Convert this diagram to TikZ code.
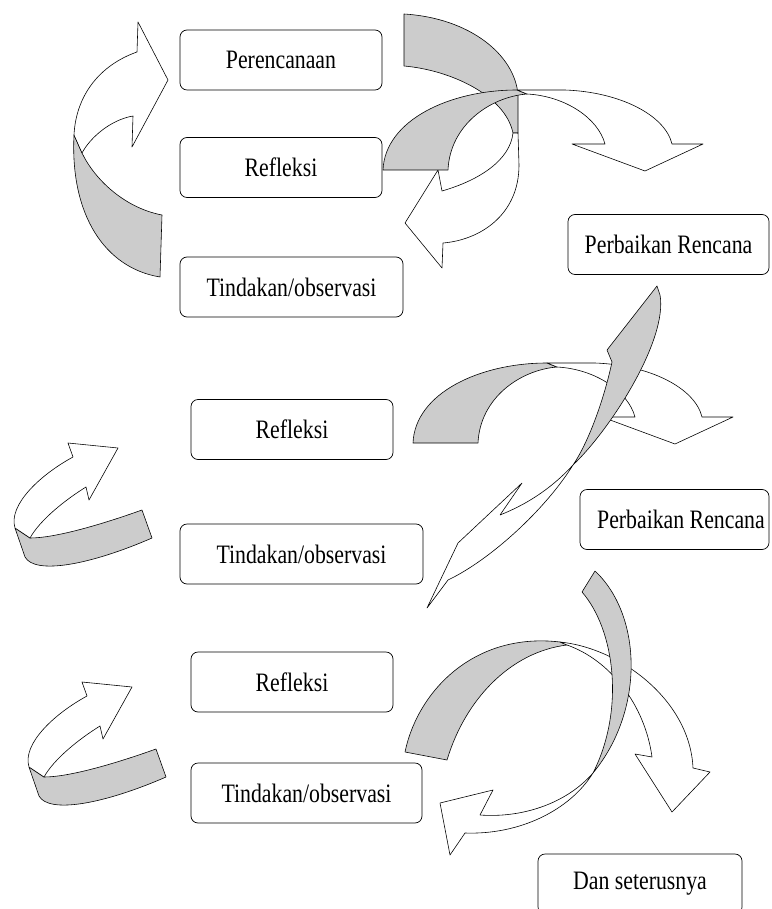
\documentclass[tikz,border=0pt]{standalone}
\usepackage{fontspec}
\setmainfont{Liberation Serif}
\usepackage{graphicx}
\usetikzlibrary{positioning}
\tikzset{>=latex}

\begin{document}
\begin{tikzpicture}[x=0.03cm, y=-0.03cm,
                    line cap=round, line join=round,
                    box/.style={draw, rounded corners=6pt, line width=0.6pt,
                                minimum height=1.8cm, inner sep=0pt,
                                font=\fontsize{18.6}{20}\selectfont},
                    back/.style={draw, fill=black!20, line width=0.5pt},
                    front/.style={draw, fill=white, line width=0.5pt}]
  \def\tall#1{\scalebox{1}[1.22]{#1}}
  \useasboundingbox (0,0) rectangle (771,909);

  % boxes
  \node[box, minimum width=6.06cm] (plan)  at (281,60)     {\tall{Perencanaan}};
  \node[box, minimum width=6.06cm] (refl1) at (281,167.5)  {\tall{Refleksi}};
  \node[box, minimum width=6.69cm] (act1)  at (291.5,287)  {\tall{Tindakan/observasi}};
  \node[box, minimum width=6.03cm] (fix1)  at (668.5,244.5) {\tall{Perbaikan Rencana}};
  \node[box, minimum width=6.06cm] (refl2) at (292,429.5)  {\tall{Refleksi}};
  \node[box, minimum width=7.29cm] (act2)  at (301.5,554)  {\tall{Tindakan/observasi}};
  \node[box, minimum width=5.67cm] (fix2)  at (674.5,519.5) {\hspace*{11pt}\tall{Perbaikan Rencana}};
  \node[box, minimum width=6.06cm] (refl3) at (292,682)    {\tall{Refleksi}};
  \node[box, minimum width=6.93cm] (act3)  at (306.5,793)  {\tall{Tindakan/observasi}};
  \node[box, minimum width=6.12cm] (next)  at (640,884)    {\tall{Dan seterusnya}};

  % first cycle, left arrow
  \draw[back] (74,135) .. controls (70,215) and (105,268) .. (160,277) -- (162,215)
    .. controls (125,208) and (95,180) .. (82,153) -- cycle;
  \draw[front] (137,52) .. controls (100,65) and (76,95) .. (74,135) -- (82,153)
    .. controls (90,138) and (110,120) .. (133,116) -- (132,147) -- (168,80)
    -- (138,22) -- cycle;

  % first cycle, arrow back to the left
  \draw[back] (404,14) .. controls (470,18) and (515,55) .. (518,95) -- (518,133)
    -- (513,133) .. controls (505,95) and (450,70) .. (404,66) -- cycle;
  \draw[front] (518,133) -- (519,165) .. controls (519,215) and (480,240) .. (443,243)
    -- (442,268) -- (405,223) -- (438,170) -- (442,191)
    .. controls (480,180) and (510,160) .. (513,133) -- cycle;

  % arrows from Refleksi to Perbaikan Rencana
  \foreach \dx/\dy in {0/0, 30/273} {
    \begin{scope}[shift={(\dx,\dy)}]
      \draw[back] (383,170) -- (448,170) .. controls (450,125) and (490,97) .. (527,94)
        -- (517,90) .. controls (450,90) and (385,120) .. (383,170);
      \draw[front] (517,90) -- (565,90) .. controls (620,92) and (665,115) .. (672,144)
        -- (703,144) -- (645,171) -- (572,144) -- (605,144)
        .. controls (598,118) and (565,96) .. (527,94) -- cycle;
    \end{scope}
  }

  % long arrow down to the second cycle
  \draw[back] (657,286) -- (607,350) -- (612,362)
    .. controls (605,395) and (590,440) .. (573,465)
    .. controls (610,430) and (668,340) .. (660,295) -- cycle;
  \draw[front] (573,465) .. controls (550,490) and (525,505) .. (500,515) -- (522,483)
    -- (458,543) -- (427,608) -- (448,580)
    .. controls (490,560) and (545,510) .. (573,465);

  % small arrows on the left
  \foreach \dx/\dy in {0/0, 14/239} {
    \begin{scope}[shift={(\dx,\dy)}]
      \draw[back] (15,528) -- (25,557) .. controls (35,575) and (90,565) .. (152,538)
        -- (142,510) .. controls (100,525) and (55,538) .. (30,538) -- cycle;
      \draw[front] (15,528) .. controls (8,505) and (40,475) .. (73,457) -- (68,443)
        -- (118,448) -- (89,500) -- (86,487)
        .. controls (65,500) and (40,520) .. (30,538) -- cycle;
    \end{scope}
  }

  % third cycle
  \draw[back] (405,752) -- (447,760) .. controls (465,700) and (510,652) .. (567,645)
    -- (560,642) .. controls (475,632) and (418,690) .. (405,752);
  \draw[front] (560,642) .. controls (620,648) and (690,700) .. (693,768) -- (710,772)
    -- (672,812) -- (635,754) -- (652,757)
    .. controls (645,705) and (610,660) .. (567,645) -- cycle;
  \draw[back] (595,571) -- (582,592) .. controls (615,630) and (625,710) .. (593,773)
    .. controls (645,710) and (642,615) .. (595,571);
  \draw[front] (593,773) .. controls (570,810) and (520,835) .. (465,833) -- (450,855)
    -- (440,803) -- (493,790) -- (480,815)
    .. controls (520,818) and (565,805) .. (593,773);
\end{tikzpicture}
\end{document}
